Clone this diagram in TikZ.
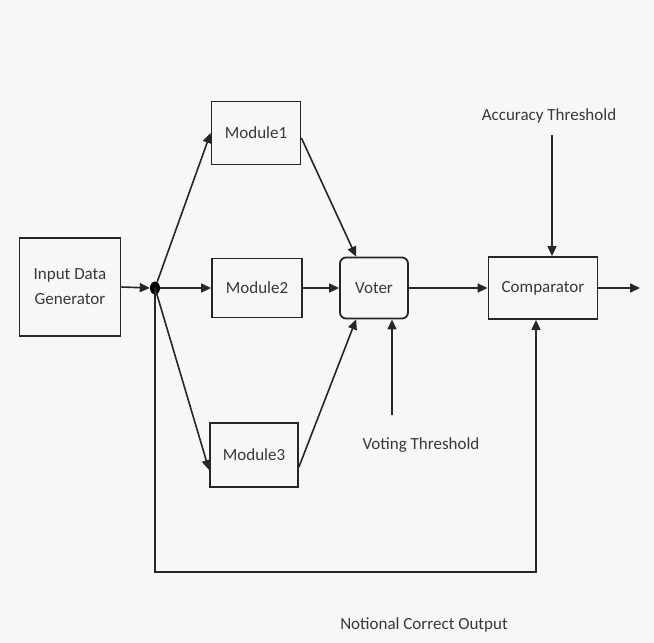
\documentclass[tikz,border=0pt]{standalone}
\usepackage{fontspec}
\setmainfont{Carlito}
\usetikzlibrary{arrows.meta,shapes.geometric}
\begin{document}
\begin{tikzpicture}[x=1pt,y=-1pt,
  box/.style={draw=black!85,line width=1.8pt,minimum width=#1,minimum height=62pt,inner sep=0pt,align=center,font=\fontsize{17}{25}\selectfont,text=black!78},
  box/.default=90pt,
  conn/.style={line width=1.6pt,draw=black!85,-{Triangle[length=10pt,width=9pt]}},
  lbl/.style={font=\fontsize{17}{20}\selectfont,text=black!78,inner sep=0pt}]
\fill[white!97!black] (0,0) rectangle (654,643);
\useasboundingbox (0,0) rectangle (654,643);
\node[box=101pt,minimum height=98pt] (gen) at (70,287) {Input Data\\Generator};
\node[fill=black,ellipse,inner sep=0pt,minimum width=10pt,minimum height=13pt] (j) at (155,288) {};
\node[box=89pt,minimum height=63pt] (m1) at (256,133) {Module1};
\node[box=90pt,minimum height=59pt] (m2) at (257,288) {Module2};
\node[box=88pt,minimum height=64pt] (m3) at (254,455) {Module3};
\node[box=68pt,minimum height=61pt,rounded corners=6pt] (v) at (374,288) {Voter};
\node[box=109pt,minimum height=62pt] (c) at (543,288) {Comparator};
\node[lbl] (acc) at (549,116) {Accuracy Threshold};
\node[lbl] (vt) at (421,445) {Voting Threshold};
\node[lbl] (nco) at (424,625) {Notional Correct Output};
\coordinate (out) at (640,288);
\coordinate (vts) at (392,415);
\coordinate (acs) at (552,135);
\coordinate (fb1) at (155,572);
\coordinate (fb2) at (536,572);
\draw[conn] (gen.east) -- (j.west);
\draw[conn] (j) -- (m1.west);
\draw[conn] (j) -- (m2.west);
\draw[conn] (j.center) -- ([yshift=-15pt]m3.west);
\draw[conn] ([yshift=-5pt]m1.east) -- ([xshift=17pt]v.north west);
\draw[conn] (m2.east) -- (v.west);
\draw[conn] ([yshift=-12pt]m3.east) -- ([xshift=17pt]v.south west);
\draw[conn] (v.east) -- (c.west);
\draw[conn] (c.east) -- (out);
\draw[conn] (vts) -- (vts |- v.south);
\draw[conn] (acs) -- (acs |- c.north);
\draw[conn] (j.center) -- (fb1) -- (fb2) -- (fb2 |- c.south);
\end{tikzpicture}
\end{document}
